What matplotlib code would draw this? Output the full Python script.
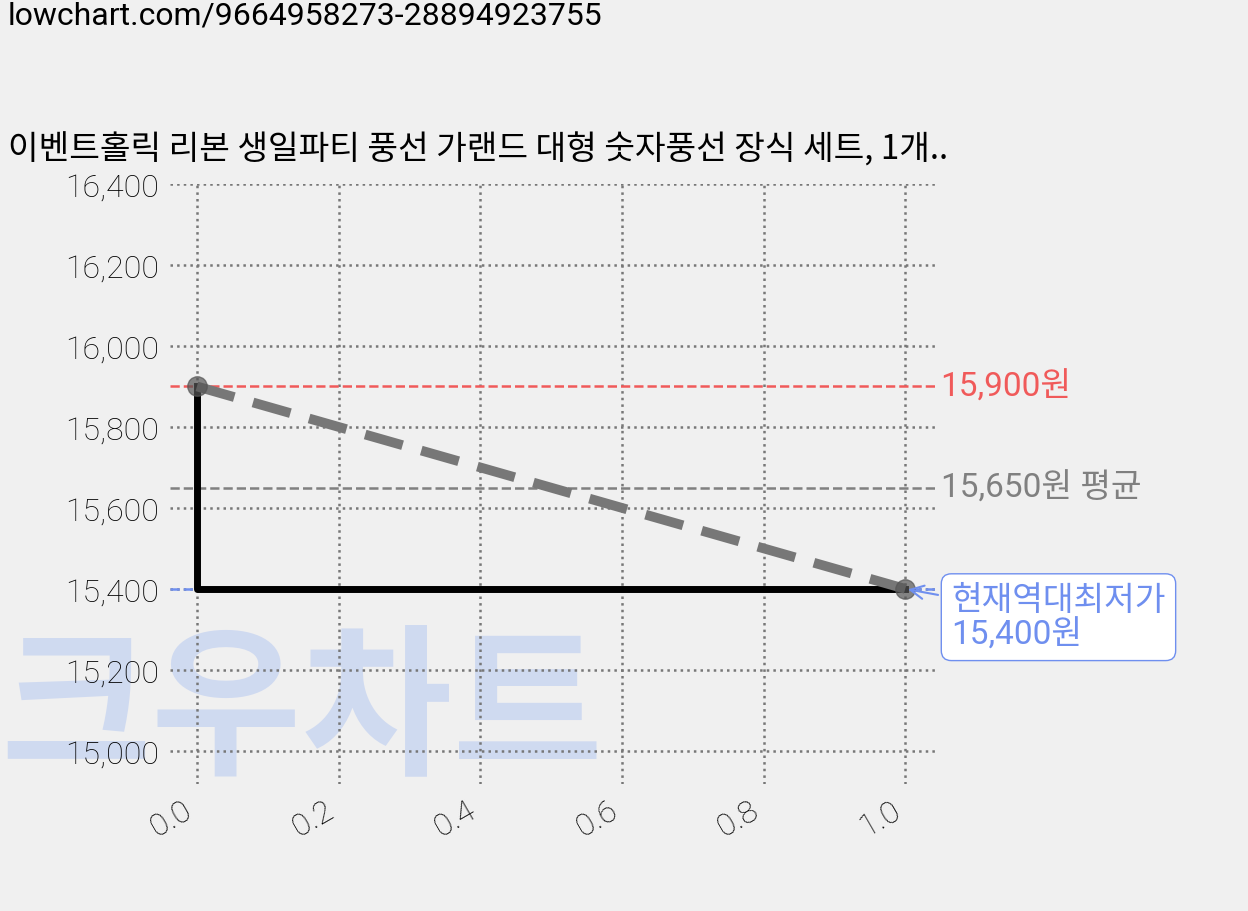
import matplotlib
matplotlib.use("Agg")
import matplotlib.pyplot as plt

x = [0.0, 1.0]
prices = [15900, 15400]
max_price = 15900
avg_price = 15650
min_price = 15400
yticks = [15000, 15200, 15400, 15600, 15800, 16000, 16200, 16400]
title = "이벤트홀릭 리본 생일파티 풍선 가랜드 대형 숫자풍선 장식 세트, 1개.."

plt.rcParams['font.family'] = ['Noto Sans CJK KR', 'DejaVu Sans']
fam = ['Roboto', 'Noto Sans CJK KR']
fig = plt.figure(figsize=(12.48, 9.12), dpi=100, facecolor='#f0f0f0')
ax = fig.add_axes([170/1248, 1-785/912, (935-170)/1248, (785-185)/912])
ax.set_facecolor('#f0f0f0')
for s in ax.spines.values():
    s.set_visible(False)
ax.set_xlim(-0.038, 1.042)
ax.set_ylim(14918, 16400)
ax.set_yticks(yticks)
ax.set_yticklabels([f"{v:,}" for v in yticks], family='Roboto', fontweight='light', fontsize=23)
ax.set_xticks([0, 0.2, 0.4, 0.6, 0.8, 1.0])
ax.set_xticklabels(["0.0", "0.2", "0.4", "0.6", "0.8", "1.0"], family='Roboto', fontweight='light', fontsize=23, rotation=30, ha='right')
ax.tick_params(length=0, pad=8, labelcolor='black')
ax.grid(True, linestyle=':', color='#777777', linewidth=1.8)

ax.text(0.0, 0.165, "크우차트", transform=fig.transFigure, fontsize=118, fontweight='black',
        color='#c5d3f0', alpha=0.75, zorder=0, style='italic')

ax.axhline(max_price, color='#f05a5a', linestyle='--', linewidth=1.8)
ax.axhline(avg_price, color='#808080', linestyle='--', linewidth=1.8)
ax.axhline(min_price, color='#6f8fef', linestyle='--', linewidth=1.8)
ax.plot(x, prices, drawstyle='steps-pre', color='black', linewidth=5)
ax.plot(x, prices, color='#777777', linestyle='--', linewidth=7, dashes=(4, 2))
ax.plot(x, prices, 'o', color='#555555', markersize=14, alpha=0.7)

ax.text(1.05, max_price, f"{max_price:,}원", color='#f05a5a', fontsize=24, va='center', family=fam, clip_on=False)
ax.text(1.05, avg_price, f"{avg_price:,}원 평균", color='#808080', fontsize=24, va='center', clip_on=False, family=fam)
ax.annotate(f"현재역대최저가\n{min_price:,}원", xy=(1.0, min_price), xytext=(1.065, 15330),
            color='#6f8fef', fontsize=24, va='center', family=fam, linespacing=1.1,
            bbox=dict(boxstyle='round,pad=0.3', fc='white', ec='#6f8fef'),
            arrowprops=dict(arrowstyle='->', color='#6f8fef', lw=1.5), annotation_clip=False)

fig.text(8/1248, 1-150/912, title, fontsize=24, va='center')
fig.text(8/1248, 1-16/912, "lowchart.com/9664958273-28894923755", fontsize=23, va='center', family=fam)
fig.savefig("out.png", dpi=100, facecolor=fig.get_facecolor())
